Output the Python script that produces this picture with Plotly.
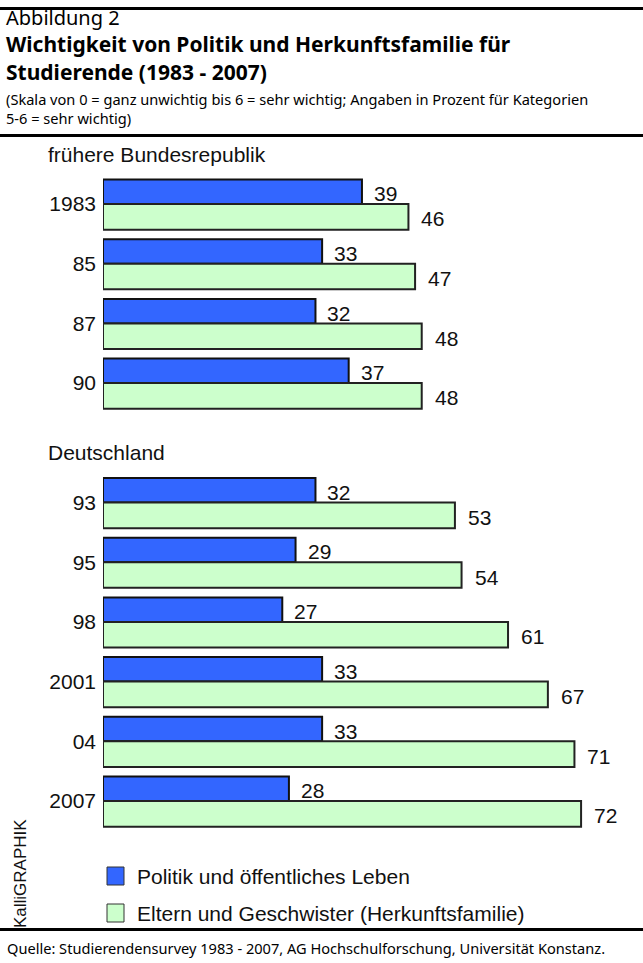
import plotly.graph_objects as go

# ---- data ----
years = ['1983', '85', '87', '90', '93', '95', '98', '2001', '04', '2007']
politik = [39, 33, 32, 37, 32, 29, 27, 33, 33, 28]
eltern = [46, 47, 48, 48, 53, 54, 61, 67, 71, 72]
region = ['früher'] * 4 + ['gesamt'] * 6
section_titles = {'früher': 'frühere Bundesrepublik', 'gesamt': 'Deutschland'}
series_names = ['Politik und öffentliches Leben', 'Eltern und Geschwister (Herkunftsfamilie)']
colors = ['#3366FF', '#CCFFCC']

title_small = 'Abbildung 2'
title_main = ['Wichtigkeit von Politik und Herkunftsfamilie für', 'Studierende (1983 - 2007)']
subtitle = ['(Skala von 0 = ganz unwichtig bis 6 = sehr wichtig; Angaben in Prozent für Kategorien',
            '5-6 = sehr wichtig)']
source = 'Quelle: Studierendensurvey 1983 - 2007, AG Hochschulforschung, Universität Konstanz.'
credit = 'KalliGRAPHIK'

# ---- layout geometry ----
W, H = 643, 963
ML, MR, MT, MB = 103, 20, 140, 128
PW, PH = W - ML - MR, H - MT - MB
SLOT_PX = 59.7
FIRST_PX = 204  # pixel of first group centre


def px_x(p):
    return (p - ML) / PW


def px_y(p):
    return (H - MB - p) / PH


# slot position of each group (a blank slot between the two periods)
slots = []
s = 0
for i, r in enumerate(region):
    if i > 0 and r != region[i - 1]:
        s += 1
    slots.append(s)
    s += 1

y_top = (MT - FIRST_PX) / SLOT_PX
y_bot = (H - MB - FIRST_PX) / SLOT_PX
x_max = PW / 6.64

ARIAL = 'Liberation Sans, Arial, sans-serif'
HUMAN = 'Noto Sans, Open Sans, sans-serif'
AF = 21

fig = go.Figure()
fig.add_trace(go.Bar(
    x=politik, y=slots, orientation='h', name=series_names[0],
    width=0.41, offset=-0.41,
    marker=dict(color=colors[0], line=dict(color='#111111', width=2)),
    showlegend=False,
))
fig.add_trace(go.Bar(
    x=eltern, y=slots, orientation='h', name=series_names[1],
    width=0.43, offset=0,
    marker=dict(color=colors[1], line=dict(color='#222222', width=2)),
    showlegend=False,
))

ann = []
# value labels
for v, sl in zip(politik, slots):
    ann.append(dict(x=v, y=sl - 0.205, xref='x', yref='y', text=str(v), showarrow=False,
                    xanchor='left', yanchor='middle', xshift=10, yshift=-2,
                    font=dict(family=ARIAL, size=AF, color='#111111')))
for v, sl in zip(eltern, slots):
    ann.append(dict(x=v, y=sl + 0.215, xref='x', yref='y', text=str(v), showarrow=False,
                    xanchor='left', yanchor='middle', xshift=11, yshift=-2,
                    font=dict(family=ARIAL, size=AF, color='#111111')))

# section headers
first_slot = {}
for r, sl in zip(region, slots):
    first_slot.setdefault(r, sl)
for r, sl in first_slot.items():
    ann.append(dict(x=px_x(46), y=sl - 0.83, xref='paper', yref='y', text=section_titles[r],
                    showarrow=False, xanchor='left', yanchor='middle',
                    font=dict(family=ARIAL, size=AF, color='#111111')))

# header texts (one block for the figure number + bold title)
title_block = ('<span style="font-weight:normal;font-size:20px">%s</span><br>' % title_small
               + '<br>'.join('<b>%s</b>' % t for t in title_main))
ann.append(dict(x=px_x(4), y=px_y(45), xref='paper', yref='paper', text=title_block,
                showarrow=False, xanchor='left', yanchor='middle', align='left',
                font=dict(family=HUMAN, size=21, color='#000000')))
ann.append(dict(x=px_x(4), y=px_y(108), xref='paper', yref='paper', text='<br>'.join(subtitle),
                showarrow=False, xanchor='left', yanchor='middle', align='left',
                font=dict(family=HUMAN, size=14.6, color='#000000')))
ann.append(dict(x=px_x(5), y=px_y(948), xref='paper', yref='paper', text=source,
                showarrow=False, xanchor='left', yanchor='middle',
                font=dict(family=HUMAN, size=14.6, color='#000000')))
ann.append(dict(x=px_x(20), y=px_y(874), xref='paper', yref='paper', text=credit,
                showarrow=False, xanchor='center', yanchor='middle', textangle=-90,
                font=dict(family=ARIAL, size=17, color='#111111')))

# legend (manual)
shapes = []
for i, (nm, col, yc) in enumerate(zip(series_names, colors, [876, 913])):
    shapes.append(dict(type='rect', xref='paper', yref='paper',
                       x0=px_x(107), x1=px_x(124), y0=px_y(yc - 9), y1=px_y(yc + 9),
                       fillcolor=col, line=dict(color='#333333', width=1)))
    ann.append(dict(x=px_x(135), y=px_y(yc), xref='paper', yref='paper', text=nm,
                    showarrow=False, xanchor='left', yanchor='middle',
                    font=dict(family=ARIAL, size=AF, color='#111111')))

# rules
for yy in [8.5, 135.5, 929.5]:
    shapes.append(dict(type='line', xref='paper', yref='paper',
                       x0=px_x(0), x1=px_x(W), y0=px_y(yy), y1=px_y(yy),
                       line=dict(color='#000000', width=3)))

fig.update_layout(
    width=W, height=H,
    margin=dict(l=ML, r=MR, t=MT, b=MB, pad=0),
    paper_bgcolor='white', plot_bgcolor='white',
    barmode='overlay',
    xaxis=dict(range=[0, x_max], visible=False, showgrid=False, zeroline=False),
    yaxis=dict(range=[y_bot, y_top], tickvals=slots, ticktext=years,
               showgrid=False, zeroline=False, showline=False, ticks='',
               ticklabelstandoff=6,
               tickfont=dict(family=ARIAL, size=AF, color='#111111')),
    annotations=ann, shapes=shapes,
    showlegend=False,
)

fig.write_html('out.html', config={'displayModeBar': False},
               post_script="document.body.style.margin='0';document.body.style.overflow='hidden';")
